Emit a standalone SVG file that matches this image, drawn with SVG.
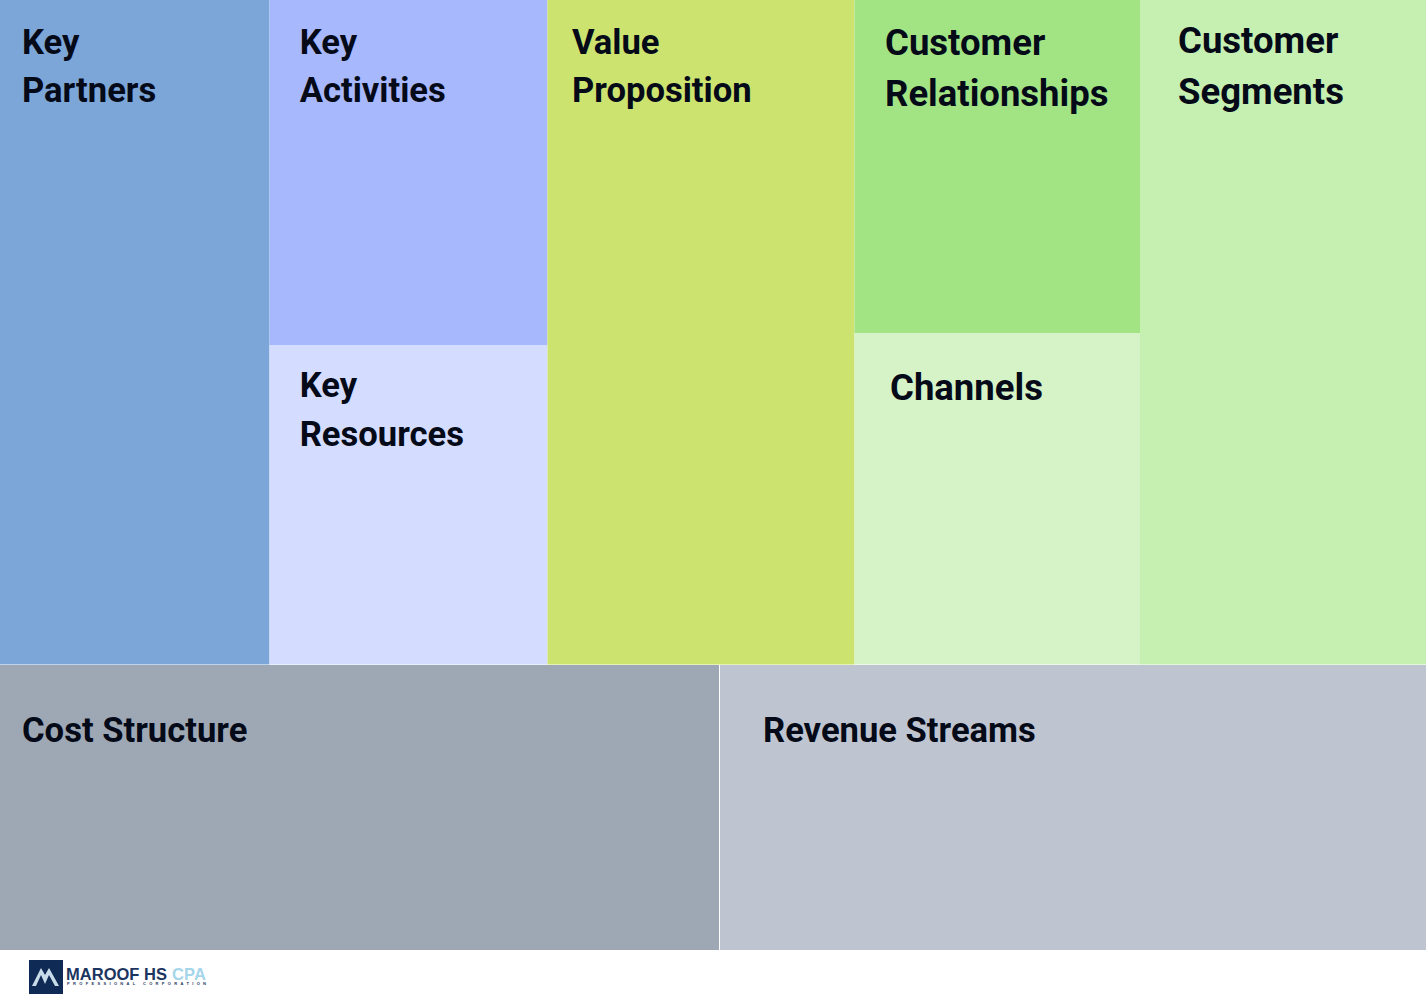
<svg xmlns="http://www.w3.org/2000/svg" width="1426" height="1008" viewBox="0 0 1426 1008">
<style>
text{font-family:Roboto,"Liberation Sans",sans-serif;font-weight:700;fill:#050a18}
.a{font-size:34.600px}
.b{font-size:36.500px}
</style>
<rect width="1426" height="1008" fill="#fff"/>
<g id="key-partners"><rect x="0" y="0" width="269.500" height="664.500" fill="#7ca5d8"/><text class="a" x="22" y="54">Key</text><text class="a" x="22" y="102">Partners</text></g>
<g id="key-activities"><rect x="269.500" y="0" width="278" height="345" fill="#a8b8fd"/><text class="a" x="299.700" y="54">Key</text><text class="a" x="299.700" y="102">Activities</text></g>
<g id="key-resources"><rect x="269.500" y="345" width="278" height="319.500" fill="#d4ddff"/><text class="a" x="299.700" y="397">Key</text><text class="a" x="299.700" y="446">Resources</text></g>
<g id="value-proposition"><rect x="547.500" y="0" width="307" height="664.500" fill="#cde36f"/><text class="a" x="572" y="54">Value</text><text class="a" x="572" y="102">Proposition</text></g>
<g id="customer-relationships"><rect x="854.500" y="0" width="285.500" height="333" fill="#a2e484"/><text class="b" x="885" y="55">Customer</text><text class="b" x="885" y="106">Relationships</text></g>
<g id="channels"><rect x="854.500" y="333" width="285.500" height="331.500" fill="#d6f3c8"/><text class="b" x="890" y="400">Channels</text></g>
<g id="customer-segments"><rect x="1140" y="0" width="286" height="664.500" fill="#c6efb2"/><text class="b" x="1178" y="53">Customer</text><text class="b" x="1178" y="104">Segments</text></g>
<g id="cost-structure"><rect x="0" y="665" width="719" height="285" fill="#9ea8b4"/><text class="a" x="22" y="742">Cost Structure</text></g>
<g id="revenue-streams"><rect x="720" y="665" width="706" height="285" fill="#bfc5d0"/><text class="a" x="763" y="742">Revenue Streams</text></g>
<g id="logo">
<rect x="29" y="960" width="34" height="34" fill="#0f2a55"/>
<path d="M32 986 L41 968 L45 975 L49 968 L59 986 L55 986 L49 975 L45 984 L41 975 L36 986Z" fill="#c8dcea"/>
<text x="66" y="980" font-size="16.500" style="fill:#1c3560;font-family:'Liberation Sans',sans-serif" textLength="101">MAROOF HS</text>
<text x="172" y="980" font-size="16.500" style="fill:#a5d5ea;font-family:'Liberation Sans',sans-serif" textLength="34">CPA</text>
<text x="67" y="985" font-size="4" style="fill:#1c3560;font-family:'Liberation Sans',sans-serif" textLength="139">PROFESSIONAL CORPORATION</text>
</g>
</svg>
